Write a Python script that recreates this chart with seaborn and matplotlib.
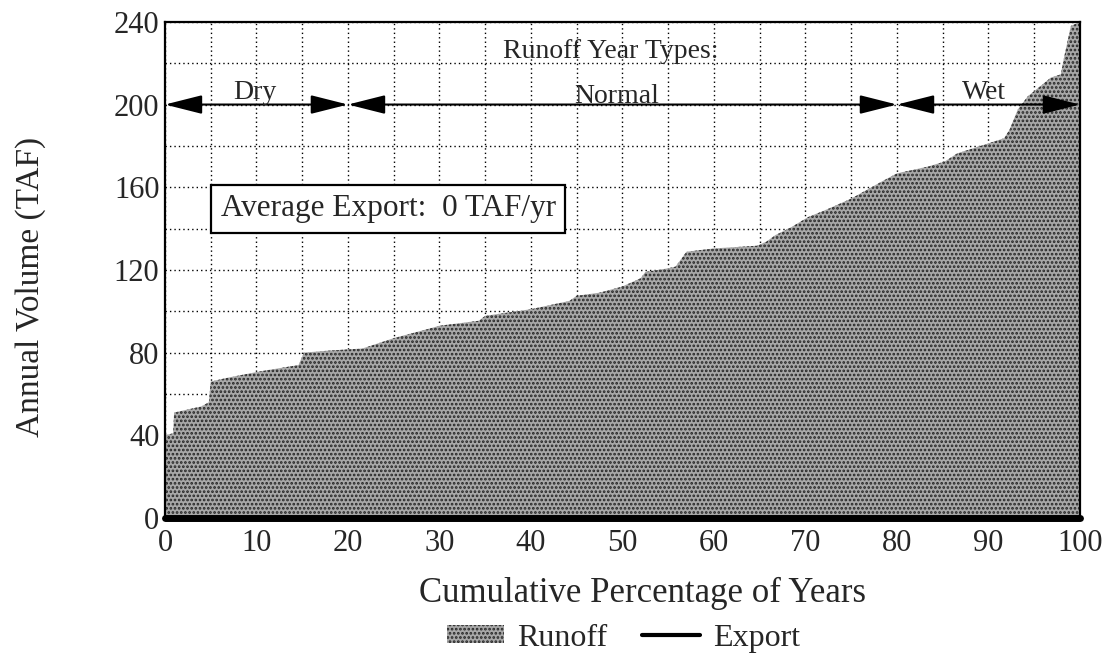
import numpy as np
import pandas as pd
import matplotlib
matplotlib.use("Agg")
import matplotlib.pyplot as plt
from matplotlib.patches import Patch
from matplotlib.lines import Line2D
from matplotlib.ticker import MultipleLocator
import seaborn as sns

# ---- data ----
pct = [0, 0.9, 1.0, 4.0, 4.8, 5.0, 7, 10.5, 14.6, 15.2, 18, 21.6, 25, 28.8, 30,
       34.3, 35, 40, 44.2, 45, 47.5, 50, 52, 52.5, 55, 55.8, 57, 60, 64.7, 65.7,
       66.7, 68.5, 70.3, 72.1, 75, 78.6, 80, 83.4, 85.2, 86.6, 89.5, 91.7, 92.3,
       93.2, 94.3, 95.7, 96.8, 97.9, 98.3, 99, 100]
runoff = [40, 41, 51, 54, 56, 66, 68, 71, 74, 80, 81, 82, 87, 91.5, 93, 95.4,
          97.8, 101, 105, 107.5, 109, 112, 116, 119, 120.8, 121.6, 128.8, 130.4,
          131.7, 133.6, 136.8, 140.8, 145.6, 148.8, 154.5, 163.4, 166.7, 170,
          172.4, 176.4, 180.5, 183.7, 187.8, 197.6, 204, 209, 213, 214.6, 223.6,
          238, 240]
export_pct = [0, 100]
export = [0, 0]
average_export = 0
year_types = ["Dry", "Normal", "Wet"]
type_bounds = [0, 20, 80, 100]
type_label_x = [9.8, 49.4, 89.5]
type_label_y = [202.8, 200.8, 202.8]
arrow_level = 200

sns.set_style("white")
plt.rcParams["font.family"] = ["Liberation Serif", "DejaVu Serif"]
plt.rcParams["hatch.linewidth"] = 1.3

fig = plt.figure(figsize=(11.07, 6.62), dpi=100)
ax = fig.add_axes([0.149, 0.2175, 0.8266, 0.7495])

df = pd.DataFrame({"pct": pct, "runoff": runoff})
fill_face = "#a8a8a8"
hatch_col = "#252525"
ax.fill_between(df["pct"], 0, df["runoff"], facecolor=fill_face,
                edgecolor=hatch_col, hatch="....", linewidth=0, zorder=2)

dfe = pd.DataFrame({"pct": export_pct, "export": export})
sns.lineplot(data=dfe, x="pct", y="export", ax=ax, color="black", lw=5,
             zorder=5, clip_on=False, legend=False)

ax.set_xlim(0, 100)
ax.set_ylim(0, 240)
ax.xaxis.set_major_locator(MultipleLocator(10))
ax.xaxis.set_minor_locator(MultipleLocator(5))
ax.yaxis.set_major_locator(MultipleLocator(40))
ax.yaxis.set_minor_locator(MultipleLocator(20))
ax.grid(True, which="both", color="black", linestyle=(0, (1, 2.2)), lw=1.0,
        zorder=1)
ax.set_axisbelow(True)
ax.tick_params(axis="both", which="both", length=0, labelsize=22)
ax.tick_params(axis="x", pad=8)
ax.tick_params(axis="y", pad=4)
for s in ax.spines.values():
    s.set_color("black")
    s.set_linewidth(1.6)

ax.set_xlabel("Cumulative Percentage of Years", fontsize=25)
ax.set_ylabel("Annual Volume (TAF)", fontsize=24)
ax.xaxis.set_label_coords(0.522, -0.119)
ax.yaxis.set_label_coords(-0.130, 0.466)

# year type arrows
for i in range(len(year_types)):
    ax.annotate("", xy=(type_bounds[i + 1], arrow_level),
                xytext=(type_bounds[i], arrow_level),
                arrowprops=dict(arrowstyle="<|-|>,head_length=2.3,head_width=0.58",
                                mutation_scale=10, color="black", lw=1.5,
                                shrinkA=0, shrinkB=0),
                zorder=6, annotation_clip=False)
    ax.text(type_label_x[i], type_label_y[i], year_types[i], ha="center",
            va="baseline", fontsize=20, zorder=6)
ax.text(48.7, 225.5, "Runoff Year Types:", ha="center", va="center",
        fontsize=20, zorder=6)

ax.text(6.1, 149.5, f"Average Export:  {average_export} TAF/yr", ha="left",
        va="center", fontsize=22.5, zorder=6,
        bbox=dict(boxstyle="square,pad=0.3", facecolor="white",
                  edgecolor="black", lw=1.6))

handles = [Patch(facecolor=fill_face, edgecolor=hatch_col, hatch="....", lw=0),
           Line2D([0], [0], color="black", lw=3)]
fig.legend(handles, ["Runoff", "Export"], loc="center",
           bbox_to_anchor=(0.563, 0.036), ncol=2, frameon=False, fontsize=23,
           handlelength=1.8, handleheight=0.5, columnspacing=1.1,
           handletextpad=0.4)

fig.savefig("out.png", dpi=100)
